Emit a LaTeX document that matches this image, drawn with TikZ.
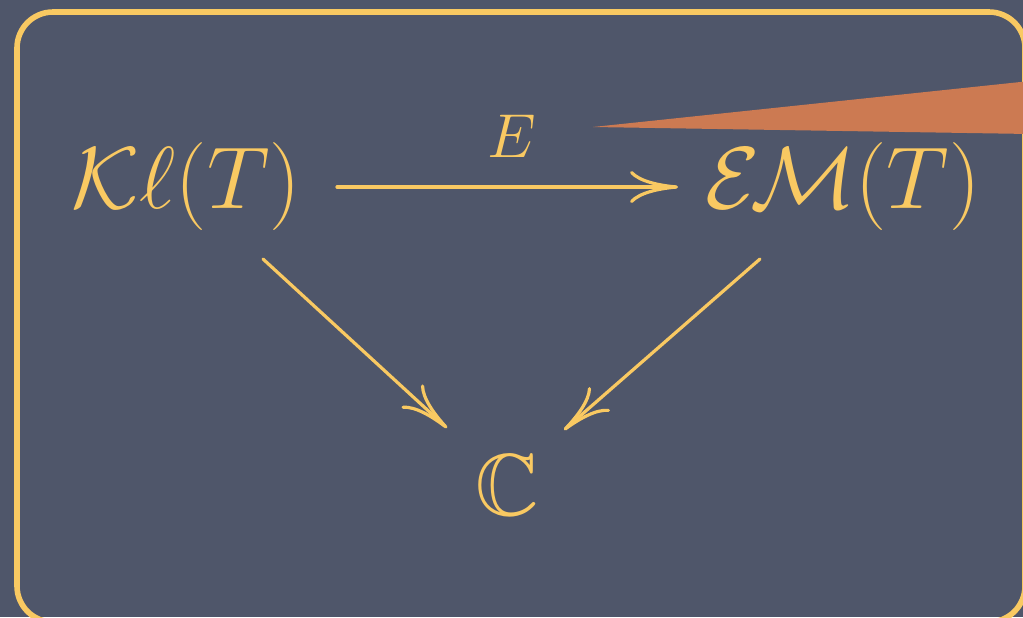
\RequirePackage{fix-cm}
\documentclass[tikz,border=0pt]{standalone}
\usepackage{amssymb}
\usetikzlibrary{arrows.meta,calc}
\definecolor{board}{HTML}{4F566A}
\definecolor{chalk}{HTML}{F9C962}
\definecolor{wedge}{HTML}{CC7A52}
\tikzset{
  obj/.style={text=chalk, inner sep=0pt, anchor=base, font=\fontsize{44}{50}\selectfont},
  lbl/.style={text=chalk, inner sep=0pt, anchor=base, font=\fontsize{31}{34}\selectfont},
  arr/.style={draw=chalk, line width=1.6pt, line cap=round, -{To[length=24pt,width=16pt]}},
  frame/.style={draw=chalk, line width=2.8pt, rounded corners=18pt}
}
\begin{document}
\begin{tikzpicture}[x=0.5pt,y=-0.5pt]
\useasboundingbox (0,0) rectangle (1023,617);
\fill[board] (0,0) rectangle (1023,617);
\begin{scope}
\clip (0,0) rectangle (1023,617);
\draw[frame] (17,12) rectangle (1025,622);
\fill[wedge] (593,127) -- (1030,81) -- (1030,134) -- cycle;
\end{scope}
\node[obj] (Kl) at (186,208) {$\mathcal{K}\ell(T)$};
\node[obj] (EM) at (843,208) {$\mathcal{E}\mkern-2mu\mathcal{M}(T)$};
\node[obj] (C) at (507,515) {$\mathbb{C}$};
\node[lbl] (E) at (512,157) {$E$};
\draw[arr] ($(Kl.base)+(151,-21)$) -- ($(EM.base)+(-165,-21)$);
\draw[arr] ($(Kl.base)+(77,51)$) -- ($(C.base)+(-60,-87)$);
\draw[arr] ($(EM.base)+(-83,51)$) -- ($(C.base)+(57,-85)$);
\end{tikzpicture}
\end{document}
